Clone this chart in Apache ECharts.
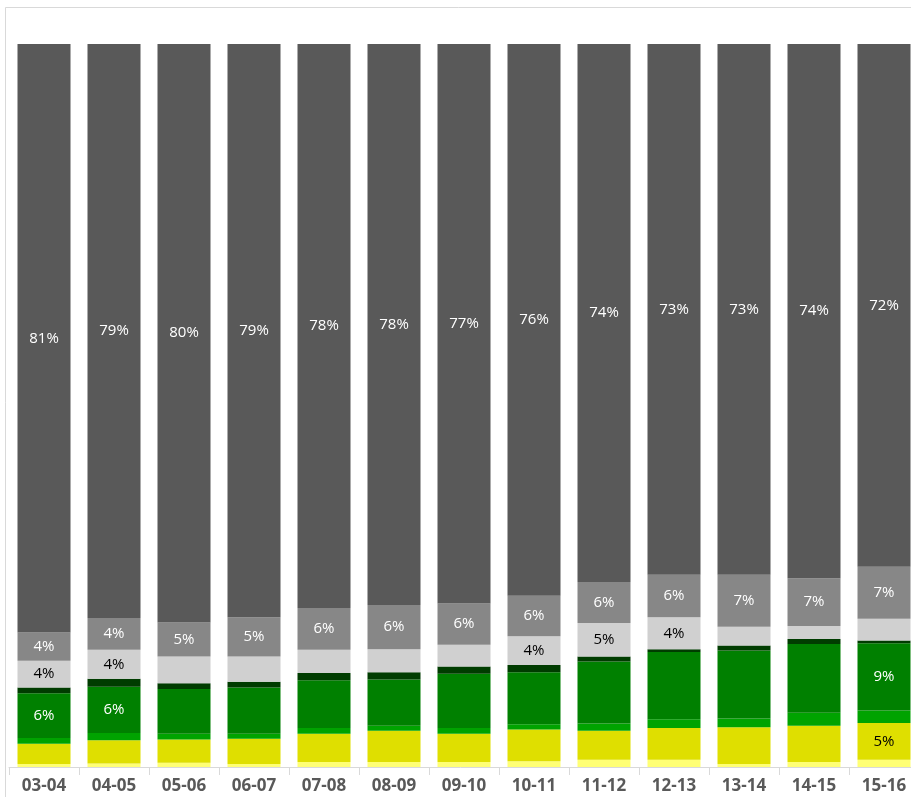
<!DOCTYPE html>
<html>
<head>
<meta charset="utf-8">
<script src="https://cdn.jsdelivr.net/npm/echarts@6/dist/echarts.min.js"></script>
<style>
  html, body { margin: 0; padding: 0; background: #fff; }
  #chart { width: 911px; height: 797px; }
</style>
</head>
<body>
<div id="chart"></div>
<script>
// 学年（x 轴）
const years = ['03-04', '04-05', '05-06', '06-07', '07-08', '08-09', '09-10', '10-11', '11-12', '12-13', '13-14', '14-15', '15-16']

// 各部分占比（%），自下而上
const lightYellow = [0.4, 0.5, 0.6, 0.4, 0.7, 0.7, 0.7, 0.8, 1.0, 1.0, 0.4, 0.7, 1.0]
const yellow      = [2.8, 3.2, 3.2, 3.5, 3.9, 4.3, 3.9, 4.4, 4.0, 4.4, 5.1, 5.0, 5.1]
const brightGreen = [0.8, 1.0, 0.8, 0.7, 0.8, 0.7, 0.8, 0.7, 1.0, 1.2, 1.2, 1.8, 1.7]
const green       = [6.2, 6.4, 6.2, 6.4, 6.6, 6.4, 7.5, 7.2, 8.6, 9.3, 9.4, 9.5, 9.3]
const darkGreen   = [0.8, 1.1, 0.8, 0.8, 1.0, 1.0, 1.0, 1.0, 0.7, 0.4, 0.7, 0.7, 0.4]
const lightGrey   = [3.7, 4.0, 3.7, 3.5, 3.2, 3.2, 3.0, 4.0, 4.6, 4.4, 2.6, 1.8, 3.0]
const grey        = [3.9, 4.4, 4.7, 5.4, 5.8, 6.1, 5.7, 5.6, 5.7, 5.9, 7.2, 6.6, 7.2]
const darkGrey    = [81.4, 79.4, 80.0, 79.3, 78.0, 77.6, 77.4, 76.3, 74.4, 73.4, 73.4, 73.9, 72.3]

// 哪些柱子显示标签（按索引）
const labelIdx = {
  yellow: [12],
  green: [0, 1, 12],
  lightGrey: [0, 1, 7, 8, 9],
  grey: [0, 1, 2, 3, 4, 5, 6, 7, 8, 9, 10, 11, 12],
  darkGrey: [0, 1, 2, 3, 4, 5, 6, 7, 8, 9, 10, 11, 12]
}

const labelFont = 'Open Sans'

function makeSeries (name, data, color, labelColor, key) {
  const shown = labelIdx[key] || []
  return {
    name: name,
    type: 'bar',
    stack: 'total',
    barWidth: 53,
    itemStyle: { color: color },
    data: data.map((v, i) => ({
      value: v,
      label: {
        show: shown.indexOf(i) !== -1,
        position: 'inside',
        color: labelColor,
        fontSize: 15,
        fontFamily: labelFont,
        formatter: p => Math.round(p.value) + '%'
      }
    }))
  }
}

var myChart = echarts.init(document.getElementById('chart'))

var option = {
  animation: false,
  backgroundColor: '#fff',
  graphic: [{
    type: 'rect',
    shape: { x: 5.5, y: 7.5, width: 1000, height: 1000 },
    style: { fill: 'none', stroke: '#d9d9d9', lineWidth: 1 },
    silent: true,
    z: -1
  }],
  grid: {
    left: 9,
    right: -8,
    top: 44,
    bottom: 30,
    containLabel: false,
    outerBoundsMode: 'none'
  },
  xAxis: {
    type: 'category',
    data: years,
    axisLine: { show: true, lineStyle: { color: '#d9d9d9', width: 1 } },
    axisTick: { show: true, length: 8, lineStyle: { color: '#d9d9d9' } },
    axisLabel: {
      color: '#595959',
      fontSize: 17,
      fontWeight: 'bold',
      fontFamily: labelFont,
      margin: 11,
      interval: 0
    },
    splitLine: { show: false }
  },
  yAxis: {
    type: 'value',
    min: 0,
    max: 100,
    show: false
  },
  series: [
    makeSeries('lightYellow', lightYellow, '#ffff75', '#000', 'lightYellow'),
    makeSeries('yellow', yellow, '#dfdf00', '#000', 'yellow'),
    makeSeries('brightGreen', brightGreen, '#00a300', '#fff', 'brightGreen'),
    makeSeries('green', green, '#008000', '#fff', 'green'),
    makeSeries('darkGreen', darkGreen, '#003c00', '#fff', 'darkGreen'),
    makeSeries('lightGrey', lightGrey, '#d0d0d0', '#000', 'lightGrey'),
    makeSeries('grey', grey, '#878787', '#fff', 'grey'),
    makeSeries('darkGrey', darkGrey, '#595959', '#fff', 'darkGrey')
  ]
}

option && myChart.setOption(option)
</script>
</body>
</html>
